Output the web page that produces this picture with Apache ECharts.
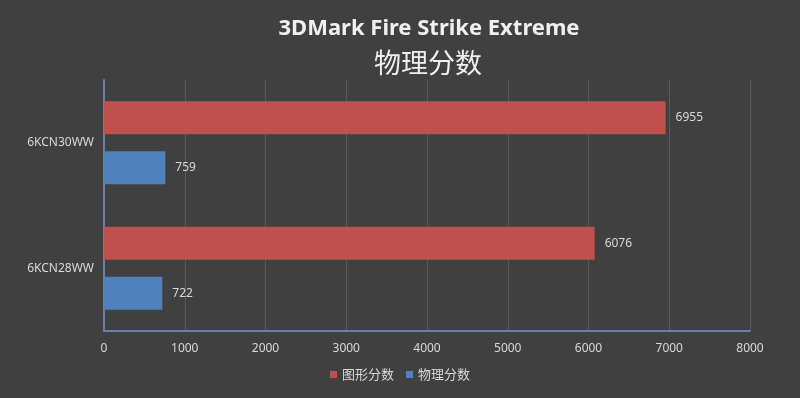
<!DOCTYPE html>
<html>
<head>
<meta charset="utf-8">
<script src="https://cdn.jsdelivr.net/npm/echarts@6/dist/echarts.min.js"></script>
<style>
  html, body { margin: 0; padding: 0; background: #404040; }
  #chart { width: 800px; height: 398px; }
</style>
</head>
<body>
<div id="chart"></div>
<script>
var categories = ['6KCN28WW', '6KCN30WW'];
var graphicsScore = [6076, 6955];
var physicsScore = [722, 759];
var xTicks = [0, 1000, 2000, 3000, 4000, 5000, 6000, 7000, 8000];

var textColor = '#d9d9d9';
var font = '"Noto Sans", "Noto Sans CJK SC", sans-serif';

var chart = echarts.init(document.getElementById('chart'));
chart.setOption({
    backgroundColor: '#404040',
    textStyle: { fontFamily: font },
    title: [{
        text: '3DMark Fire Strike Extreme',
        left: 424,
        top: 13,
        textAlign: 'center',
        textStyle: { color: '#f0f0f0', fontSize: 22, fontWeight: 'bold', fontFamily: font }
    }, {
        text: '物理分数',
        left: 423,
        top: 44,
        textAlign: 'center',
        textStyle: { color: '#f0f0f0', fontSize: 27, fontWeight: 'normal', fontFamily: '"Noto Sans CJK SC", sans-serif' }
    }],
    legend: {
        data: ['图形分数', '物理分数'],
        bottom: 12,
        left: 'center',
        icon: 'rect',
        itemWidth: 7,
        itemHeight: 7,
        itemGap: 12,
        textStyle: { color: textColor, fontSize: 13, fontFamily: '"Noto Sans CJK SC", sans-serif' }
    },
    grid: { left: 104, right: 50, top: 80, bottom: 67 },
    xAxis: {
        type: 'value',
        min: xTicks[0],
        max: xTicks[xTicks.length - 1],
        interval: 1000,
        axisLine: { show: true, lineStyle: { color: '#6b7fa8', width: 2 } },
        axisTick: { show: false },
        axisLabel: { color: textColor, fontSize: 12, margin: 12, formatter: function (v) { return String(v); } },
        splitLine: { show: true, lineStyle: { color: '#5a5a5a', width: 1 } }
    },
    yAxis: {
        type: 'category',
        data: categories,
        axisLine: { show: true, lineStyle: { color: '#6b7fa8', width: 2 } },
        axisTick: { show: false },
        axisLabel: { color: textColor, fontSize: 12, margin: 10 },
        splitLine: { show: false }
    },
    series: [{
        name: '图形分数',
        type: 'bar',
        data: graphicsScore,
        barWidth: 33,
        barGap: '52%',
        itemStyle: { color: '#c0504d' },
        label: { show: true, position: 'right', distance: 10, color: textColor, fontSize: 12 }
    }, {
        name: '物理分数',
        type: 'bar',
        data: physicsScore,
        barWidth: 33,
        barGap: '52%',
        itemStyle: { color: '#4f81bd' },
        label: { show: true, position: 'right', distance: 10, color: textColor, fontSize: 12 }
    }]
});
</script>
</body>
</html>
